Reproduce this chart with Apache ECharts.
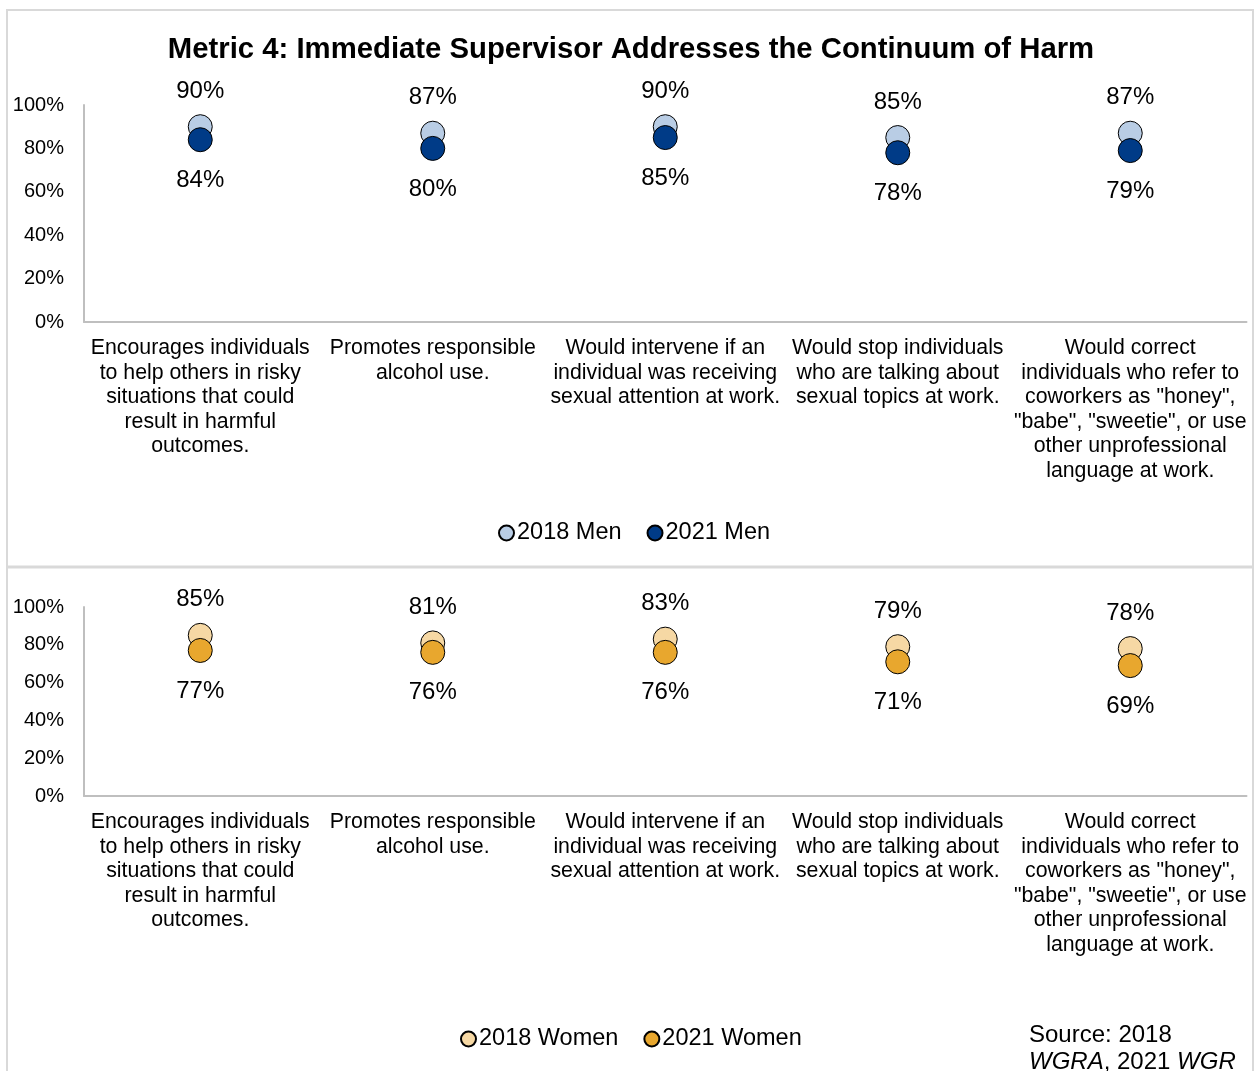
<!DOCTYPE html>
<html>
<head>
<meta charset="utf-8">
<script src="https://cdn.jsdelivr.net/npm/echarts@6/dist/echarts.min.js"></script>
<style>
  html, body { margin: 0; padding: 0; background: #fff; }
  #chart { width: 1256px; height: 1071px; }
</style>
</head>
<body>
<div id="chart"></div>
<script>
const categories = [
  "Encourages individuals\nto help others in risky\nsituations that could\nresult in harmful\noutcomes.",
  "Promotes responsible\nalcohol use.",
  "Would intervene if an\nindividual was receiving\nsexual attention at work.",
  "Would stop individuals\nwho are talking about\nsexual topics at work.",
  "Would correct\nindividuals who refer to\ncoworkers as \"honey\",\n\"babe\", \"sweetie\", or use\nother unprofessional\nlanguage at work."
];
const men2018 = [90, 87, 90, 85, 87];
const men2021 = [84, 80, 85, 78, 79];
const women2018 = [85, 81, 83, 79, 78];
const women2021 = [77, 76, 76, 71, 69];

const FONT = "'Liberation Sans', Arial, sans-serif";
const pct = (p) => p.value + "%";

const mkX = (gi) => ({
  type: "category",
  gridIndex: gi,
  data: categories,
  axisLine: { lineStyle: { color: "#bfbfbf", width: 2 } },
  axisTick: { show: false },
  axisLabel: {
    color: "#000", fontSize: 21.3, fontFamily: FONT,
    lineHeight: 24.5, margin: 14, interval: 0
  }
});
const mkY = (gi) => ({
  type: "value",
  gridIndex: gi,
  min: 0, max: 100, interval: 20,
  axisLine: { show: true, lineStyle: { color: "#bfbfbf", width: 2 } },
  splitLine: { show: false },
  axisTick: { show: false },
  axisLabel: {
    color: "#000", fontSize: 20, fontFamily: FONT, margin: 20,
    formatter: "{value}%"
  }
});
const mkS = (name, data, gi, color, pos) => ({
  name, type: "scatter",
  xAxisIndex: gi, yAxisIndex: gi,
  data,
  symbolSize: 24,
  itemStyle: { color, borderColor: "#000", borderWidth: 1, opacity: 1 },
  label: {
    show: true, position: pos, distance: pos === "top" ? 11 : 16,
    formatter: pct, color: "#000", fontSize: 24, fontFamily: FONT
  },
  emphasis: { disabled: true }
});

const legendText = { fontSize: 23.5, color: "#000", fontFamily: FONT, padding: [0, 0, 0, -2] };

const chart = echarts.init(document.getElementById("chart"));
chart.setOption({
  animation: false,
  title: {
    text: "Metric 4: Immediate Supervisor Addresses the Continuum of Harm",
    left: 626, textAlign: "center", top: 30,
    textStyle: { fontSize: 29.3, fontWeight: "bold", color: "#000", fontFamily: FONT }
  },
  legend: [
    {
      data: ["2018 Men", "2021 Men"],
      left: 493, top: 516,
      icon: "circle", itemWidth: 15, itemHeight: 15, itemGap: 25,
      textStyle: legendText
    },
    {
      data: ["2018 Women", "2021 Women"],
      left: 455, top: 1022,
      icon: "circle", itemWidth: 15, itemHeight: 15, itemGap: 25,
      textStyle: legendText
    }
  ],
  grid: [
    { left: 84, right: 9.5, top: 105, bottom: 1071 - 322 },
    { left: 84, right: 9.5, top: 607, bottom: 1071 - 796 }
  ],
  xAxis: [mkX(0), mkX(1)],
  yAxis: [mkY(0), mkY(1)],
  series: [
    mkS("2018 Men", men2018, 0, "#b9cde5", "top"),
    mkS("2021 Men", men2021, 0, "#003b87", "bottom"),
    mkS("2018 Women", women2018, 1, "#f6d8a4", "top"),
    mkS("2021 Women", women2021, 1, "#e8a72e", "bottom")
  ],
  graphic: [
    {
      type: "rect", silent: true, z: -1,
      shape: { x: 7, y: 10, width: 1246, height: 1100 },
      style: { fill: "none", stroke: "#d9d9d9", lineWidth: 2 }
    },
    {
      type: "line", silent: true, z: -1,
      shape: { x1: 7, y1: 567, x2: 1253, y2: 567 },
      style: { stroke: "#d9d9d9", lineWidth: 3 }
    },
    {
      type: "text", silent: true, left: 1029, top: 1023,
      style: {
        text: "{n|Source: 2018}\n{i|WGRA}{n|, 2021 }{i|WGR}",
        rich: {
          n: { fontSize: 24, fontFamily: FONT, fill: "#000", lineHeight: 27 },
          i: { fontSize: 24, fontFamily: FONT, fill: "#000", fontStyle: "italic", lineHeight: 27 }
        }
      }
    }
  ]
});
</script>
</body>
</html>
